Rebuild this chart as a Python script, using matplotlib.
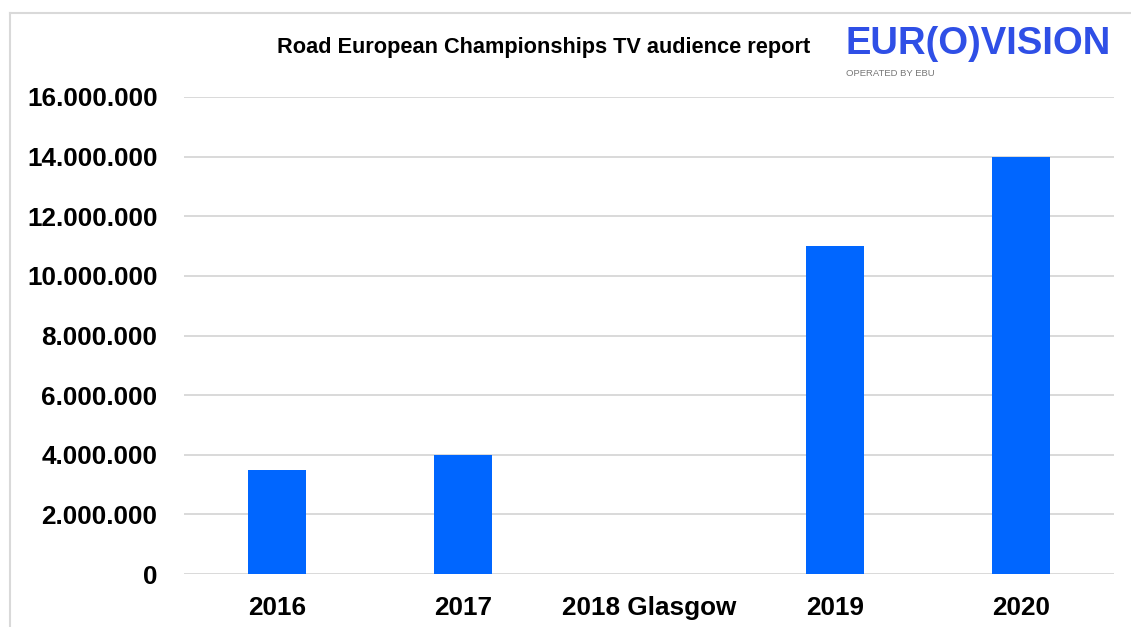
import matplotlib
matplotlib.use("Agg")
import matplotlib.pyplot as plt
from matplotlib.ticker import FuncFormatter

categories = ["2016", "2017", "2018 Glasgow", "2019", "2020"]
audience = [3500000, 4000000, 0, 11000000, 14000000]
yticks = [0, 2000000, 4000000, 6000000, 8000000, 10000000, 12000000, 14000000, 16000000]

plt.rcParams['font.family'] = ['Liberation Sans', 'DejaVu Sans']

W, H = 1131, 627
fig = plt.figure(figsize=(W/100, H/100), dpi=100)
fig.patch.set_facecolor('white')

# outer frame (top and left)
fig.add_artist(plt.Line2D([10/W, 10/W], [0, 1 - 13/H], color='#d9d9d9', lw=1.5, transform=fig.transFigure))
fig.add_artist(plt.Line2D([10/W, 1], [1 - 13/H, 1 - 13/H], color='#d9d9d9', lw=1.5, transform=fig.transFigure))

ax = fig.add_axes([184/W, (H-574)/H, (1114-184)/W, (574-97)/H])
x = range(len(categories))
ax.bar(x, audience, width=0.315, color='#0066ff', zorder=3)
ax.set_xlim(-0.5, len(categories) - 0.5)
ax.set_ylim(0, 16000000)
ax.set_yticks(yticks)
ax.yaxis.set_major_formatter(FuncFormatter(lambda v, p: f"{int(v):,}".replace(",", ".")))
ax.set_xticks(list(x))
ax.set_xticklabels(categories)
ax.grid(axis='y', color='#d9d9d9', lw=1.4, zorder=0)
for s in ax.spines.values():
    s.set_visible(False)
ax.tick_params(axis='both', length=0, labelsize=18.8)
ax.tick_params(axis='y', pad=19)
ax.tick_params(axis='x', pad=16)
for lab in ax.get_xticklabels() + ax.get_yticklabels():
    lab.set_fontweight('bold')

fig.text(544/W, 1 - 47/H, "Road European Championships TV audience report",
         ha='center', va='center', fontsize=15.7, fontweight='bold', color='black')

fig.text(845/W, 1 - 44/H, "EUR(O)VISION", ha='left', va='center', fontsize=27.5,
         fontweight='bold', color='#2f4fe6')
fig.text(846/W, 1 - 73/H, "OPERATED BY EBU", ha='left', va='center', fontsize=6.8,
         color='#777777')

fig.savefig("out.png", dpi=100, facecolor='white')
